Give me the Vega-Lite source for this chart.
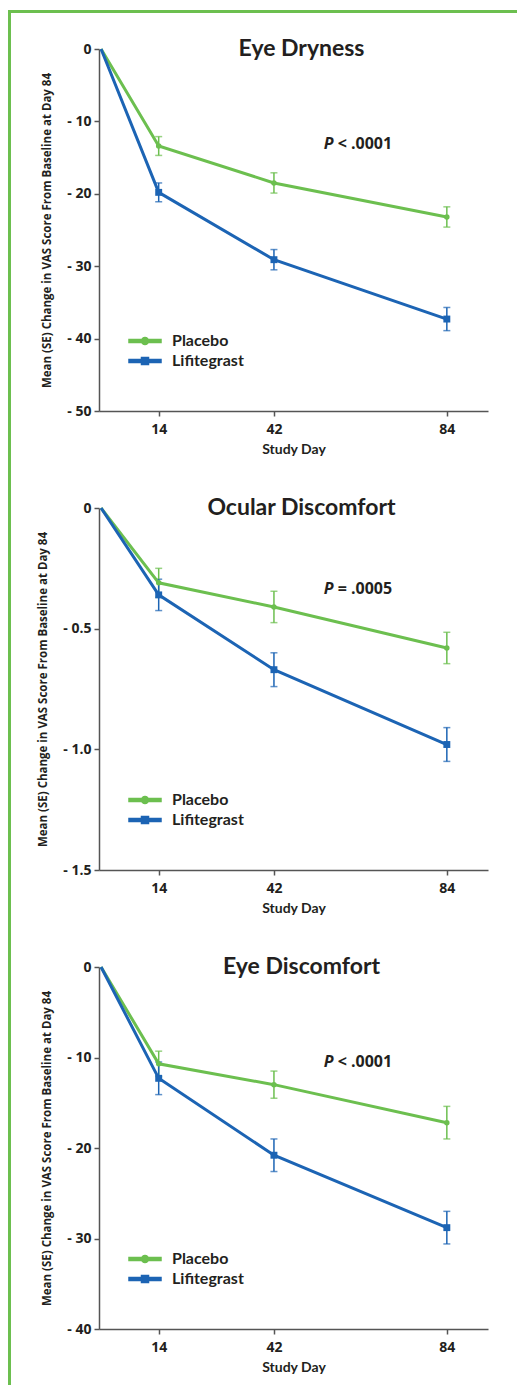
{
  "$schema": "https://vega.github.io/schema/vega-lite/v6.json",
  "padding": {"left": 8, "top": 10, "right": 0, "bottom": 0},
  "background": "white",
  "config": {
    "view": {"stroke": null},
    "axis": {
      "grid": false,
      "domainColor": "#555555",
      "domainWidth": 1.5,
      "tickColor": "#555555",
      "tickWidth": 1.5,
      "tickSize": 5,
      "labelFont": "Open Sans",
      "labelFontWeight": "bold",
      "labelFontSize": 14,
      "labelColor": "#231f20",
      "titleFont": "Open Sans",
      "titleFontWeight": "bold",
      "titleFontSize": 11.5,
      "titleColor": "#231f20"
    },
    "legend": {
      "orient": "none",
      "legendX": 38,
      "legendY": 284,
      "direction": "vertical",
      "padding": 0,
      "labelFont": "Lato",
      "labelFontSize": 16,
      "labelFontWeight": "bold",
      "labelColor": "#231f20",
      "labelOffset": 19,
      "symbolSize": 100,
      "rowPadding": 4
    },
    "title": {"font": "Lato", "fontSize": 23, "fontWeight": "bold", "color": "#231f20", "anchor": "middle", "offset": -19, "dx": 8}
  },
  "datasets": {
    "d": [
      {"panel": "A", "group": "Placebo", "day": 0, "mean": 0, "lo": 0, "hi": 0},
      {"panel": "A", "group": "Placebo", "day": 14, "mean": -13.4, "lo": -14.7, "hi": -12.1},
      {"panel": "A", "group": "Placebo", "day": 42, "mean": -18.5, "lo": -19.9, "hi": -17.1},
      {"panel": "A", "group": "Placebo", "day": 84, "mean": -23.2, "lo": -24.6, "hi": -21.8},
      {"panel": "A", "group": "Lifitegrast", "day": 0, "mean": 0, "lo": 0, "hi": 0},
      {"panel": "A", "group": "Lifitegrast", "day": 14, "mean": -19.8, "lo": -21.1, "hi": -18.5},
      {"panel": "A", "group": "Lifitegrast", "day": 42, "mean": -29.1, "lo": -30.5, "hi": -27.7},
      {"panel": "A", "group": "Lifitegrast", "day": 84, "mean": -37.3, "lo": -38.9, "hi": -35.7},
      {"panel": "B", "group": "Placebo", "day": 0, "mean": 0, "lo": 0, "hi": 0},
      {"panel": "B", "group": "Placebo", "day": 14, "mean": -0.31, "lo": -0.37, "hi": -0.25},
      {"panel": "B", "group": "Placebo", "day": 42, "mean": -0.41, "lo": -0.475, "hi": -0.345},
      {"panel": "B", "group": "Placebo", "day": 84, "mean": -0.58, "lo": -0.645, "hi": -0.515},
      {"panel": "B", "group": "Lifitegrast", "day": 0, "mean": 0, "lo": 0, "hi": 0},
      {"panel": "B", "group": "Lifitegrast", "day": 14, "mean": -0.36, "lo": -0.425, "hi": -0.295},
      {"panel": "B", "group": "Lifitegrast", "day": 42, "mean": -0.67, "lo": -0.74, "hi": -0.6},
      {"panel": "B", "group": "Lifitegrast", "day": 84, "mean": -0.98, "lo": -1.05, "hi": -0.91},
      {"panel": "C", "group": "Placebo", "day": 0, "mean": 0, "lo": 0, "hi": 0},
      {"panel": "C", "group": "Placebo", "day": 14, "mean": -10.7, "lo": -12.1, "hi": -9.3},
      {"panel": "C", "group": "Placebo", "day": 42, "mean": -13.0, "lo": -14.5, "hi": -11.5},
      {"panel": "C", "group": "Placebo", "day": 84, "mean": -17.2, "lo": -19.0, "hi": -15.4},
      {"panel": "C", "group": "Lifitegrast", "day": 0, "mean": 0, "lo": 0, "hi": 0},
      {"panel": "C", "group": "Lifitegrast", "day": 14, "mean": -12.3, "lo": -14.1, "hi": -10.5},
      {"panel": "C", "group": "Lifitegrast", "day": 42, "mean": -20.8, "lo": -22.6, "hi": -19.0},
      {"panel": "C", "group": "Lifitegrast", "day": 84, "mean": -28.8, "lo": -30.6, "hi": -27.0}
    ],
    "ann": [
      {"panel": "A", "pre": "P", "post": "< .0001", "day": 56.5, "value": -13.1},
      {"panel": "B", "pre": "P", "post": "= .0005", "day": 56.5, "value": -0.336},
      {"panel": "C", "pre": "P", "post": "< .0001", "day": 56.5, "value": -10.5}
    ],
    "one": [{"k": 1}]
  },
  "spacing": 0,
  "resolve": {"scale": {"color": "independent"}, "legend": {"color": "independent"}},
  "vconcat": [
    {
      "width": 509, "height": 3,
      "data": {"name": "one"},
      "mark": {"type": "rect", "color": "#6cbf4f"},
      "encoding": {"x": {"value": 0}, "x2": {"value": "width"}, "y": {"value": 0}, "y2": {"value": "height"}}
    },
    {
      "spacing": 26,
      "resolve": {"scale": {"color": "independent"}, "legend": {"color": "independent"}},
      "hconcat": [
        {
          "width": 3, "height": 1372,
          "data": {"name": "one"},
          "mark": {"type": "rect", "color": "#6cbf4f"},
          "encoding": {"x": {"value": 0}, "x2": {"value": "width"}, "y": {"value": 0}, "y2": {"value": "height"}}
        },
        {
          "spacing": 41,
          "resolve": {"scale": {"color": "independent"}, "legend": {"color": "independent"}},
          "vconcat": [
            {
              "spacing": 24,
              "resolve": {"scale": {"color": "independent"}, "legend": {"color": "independent"}},
              "vconcat": [
                {
                  "width": 10, "height": 1,
                  "data": {"name": "one"},
                  "mark": {"type": "rect", "opacity": 0},
                  "encoding": {"x": {"value": 0}, "x2": {"value": "width"}, "y": {"value": 0}, "y2": {"value": "height"}}
                },
                {
                  "width": 389, "height": 362,
                  "title": {"text": "Eye Dryness"},
                  "data": {"name": "d"},
                  "transform": [{"filter": "datum.panel === 'A'"}],
                  "encoding": {
                    "x": {"field": "day", "type": "quantitative", "scale": {"domain": [-0.5, 94]}, "axis": {"values": [14, 42, 84], "title": "Study Day", "titleFont": "Lato", "titleFontSize": 14, "labelPadding": 6, "titlePadding": 6}}
                  },
                  "layer": [
                    {
                      "transform": [{"filter": "datum.day > 0"}],
                      "mark": {"type": "errorbar", "ticks": {"size": 7, "thickness": 1.5}, "rule": {"strokeWidth": 1.5}},
                      "encoding": {
                        "y": {"field": "lo", "type": "quantitative", "scale": {"domain": [-50, 0], "nice": false}, "axis": {"values": [0, -10, -20, -30, -40, -50], "labelExpr": "datum.value == 0 ? '0' : '- ' + format(-datum.value, 'd')", "title": "Mean (SE) Change in VAS Score From Baseline at Day 84", "titlePadding": 14, "labelPadding": 3}},
                        "y2": {"field": "hi"},
                        "color": {"field": "group", "type": "nominal"}
                      }
                    },
                    {
                      "mark": {"type": "line", "strokeWidth": 3},
                      "encoding": {
                        "y": {"field": "mean", "type": "quantitative"},
                        "color": {"field": "group", "type": "nominal", "sort": ["Placebo", "Lifitegrast"], "scale": {"domain": ["Placebo", "Lifitegrast"], "range": ["#6cbf4f", "#1c64b4"]},
                          "legend": {"title": null, "encode": {"symbols": {"update": {
                            "shape": {"signal": "datum.value === 'Placebo' ? 'M-3.2,-0.3H3.2V0.3H-3.2Z M0.7,0A0.7,0.7 0 1,1 -0.7,0A0.7,0.7 0 1,1 0.7,0Z' : 'M-3.2,-0.3H3.2V0.3H-3.2Z M-0.7,-0.7H0.7V0.7H-0.7Z'"},
                            "fill": {"signal": "datum.value === 'Placebo' ? '#6cbf4f' : '#1c64b4'"},
                            "stroke": {"value": "transparent"},
                            "opacity": {"value": 1}}}}}}
                      }
                    },
                    {
                      "transform": [{"filter": "datum.day > 0"}],
                      "mark": {"type": "point", "filled": true, "opacity": 1},
                      "encoding": {
                        "y": {"field": "mean", "type": "quantitative"},
                        "color": {"field": "group", "type": "nominal"},
                        "shape": {"condition": {"test": "datum.group === 'Placebo'", "value": "circle"}, "value": "square"},
                        "size": {"condition": {"test": "datum.group === 'Placebo'", "value": 30}, "value": 48}
                      }
                    },
                    {
                      "data": {"name": "ann"},
                      "transform": [{"filter": "datum.panel === 'A'"}],
                      "mark": {"type": "text", "font": "Open Sans", "fontSize": 16, "fontWeight": "bold", "fontStyle": "italic", "align": "right", "baseline": "middle", "color": "#231f20"},
                      "encoding": {"x": {"field": "day", "type": "quantitative"}, "y": {"field": "value", "type": "quantitative"}, "text": {"field": "pre"}}
                    },
                    {
                      "data": {"name": "ann"},
                      "transform": [{"filter": "datum.panel === 'A'"}],
                      "mark": {"type": "text", "font": "Open Sans", "fontSize": 16, "fontWeight": "bold", "align": "left", "baseline": "middle", "dx": 4, "color": "#231f20"},
                      "encoding": {"x": {"field": "day", "type": "quantitative"}, "y": {"field": "value", "type": "quantitative"}, "text": {"field": "post"}}
                    }
                  ]
                }
              ]
            },
            {
              "width": 389, "height": 362,
              "title": {"text": "Ocular Discomfort"},
              "data": {"name": "d"},
              "transform": [{"filter": "datum.panel === 'B'"}],
              "encoding": {
                "x": {"field": "day", "type": "quantitative", "scale": {"domain": [-0.5, 94]}, "axis": {"values": [14, 42, 84], "title": "Study Day", "titleFont": "Lato", "titleFontSize": 14, "labelPadding": 6, "titlePadding": 6}}
              },
              "layer": [
                {
                  "transform": [{"filter": "datum.day > 0"}],
                  "mark": {"type": "errorbar", "ticks": {"size": 7, "thickness": 1.5}, "rule": {"strokeWidth": 1.5}},
                  "encoding": {
                    "y": {"field": "lo", "type": "quantitative", "scale": {"domain": [-1.5, 0], "nice": false}, "axis": {"values": [0, -0.5, -1, -1.5], "labelExpr": "datum.value == 0 ? '0' : '- ' + format(-datum.value, '.1f')", "title": "Mean (SE) Change in VAS Score From Baseline at Day 84", "titlePadding": 14, "labelPadding": 3}},
                    "y2": {"field": "hi"},
                    "color": {"field": "group", "type": "nominal"}
                  }
                },
                {
                  "mark": {"type": "line", "strokeWidth": 3},
                  "encoding": {
                    "y": {"field": "mean", "type": "quantitative"},
                    "color": {"field": "group", "type": "nominal", "sort": ["Placebo", "Lifitegrast"], "scale": {"domain": ["Placebo", "Lifitegrast"], "range": ["#6cbf4f", "#1c64b4"]},
                      "legend": {"title": null, "encode": {"symbols": {"update": {
                        "shape": {"signal": "datum.value === 'Placebo' ? 'M-3.2,-0.3H3.2V0.3H-3.2Z M0.7,0A0.7,0.7 0 1,1 -0.7,0A0.7,0.7 0 1,1 0.7,0Z' : 'M-3.2,-0.3H3.2V0.3H-3.2Z M-0.7,-0.7H0.7V0.7H-0.7Z'"},
                        "fill": {"signal": "datum.value === 'Placebo' ? '#6cbf4f' : '#1c64b4'"},
                        "stroke": {"value": "transparent"},
                        "opacity": {"value": 1}}}}}}
                  }
                },
                {
                  "transform": [{"filter": "datum.day > 0"}],
                  "mark": {"type": "point", "filled": true, "opacity": 1},
                  "encoding": {
                    "y": {"field": "mean", "type": "quantitative"},
                    "color": {"field": "group", "type": "nominal"},
                    "shape": {"condition": {"test": "datum.group === 'Placebo'", "value": "circle"}, "value": "square"},
                    "size": {"condition": {"test": "datum.group === 'Placebo'", "value": 30}, "value": 48}
                  }
                },
                {
                  "data": {"name": "ann"},
                  "transform": [{"filter": "datum.panel === 'B'"}],
                  "mark": {"type": "text", "font": "Open Sans", "fontSize": 16, "fontWeight": "bold", "fontStyle": "italic", "align": "right", "baseline": "middle", "color": "#231f20"},
                  "encoding": {"x": {"field": "day", "type": "quantitative"}, "y": {"field": "value", "type": "quantitative"}, "text": {"field": "pre"}}
                },
                {
                  "data": {"name": "ann"},
                  "transform": [{"filter": "datum.panel === 'B'"}],
                  "mark": {"type": "text", "font": "Open Sans", "fontSize": 16, "fontWeight": "bold", "align": "left", "baseline": "middle", "dx": 4, "color": "#231f20"},
                  "encoding": {"x": {"field": "day", "type": "quantitative"}, "y": {"field": "value", "type": "quantitative"}, "text": {"field": "post"}}
                }
              ]
            },
            {
              "width": 389, "height": 362,
              "title": {"text": "Eye Discomfort"},
              "data": {"name": "d"},
              "transform": [{"filter": "datum.panel === 'C'"}],
              "encoding": {
                "x": {"field": "day", "type": "quantitative", "scale": {"domain": [-0.5, 94]}, "axis": {"values": [14, 42, 84], "title": "Study Day", "titleFont": "Lato", "titleFontSize": 14, "labelPadding": 6, "titlePadding": 6}}
              },
              "layer": [
                {
                  "transform": [{"filter": "datum.day > 0"}],
                  "mark": {"type": "errorbar", "ticks": {"size": 7, "thickness": 1.5}, "rule": {"strokeWidth": 1.5}},
                  "encoding": {
                    "y": {"field": "lo", "type": "quantitative", "scale": {"domain": [-40, 0], "nice": false}, "axis": {"values": [0, -10, -20, -30, -40], "labelExpr": "datum.value == 0 ? '0' : '- ' + format(-datum.value, 'd')", "title": "Mean (SE) Change in VAS Score From Baseline at Day 84", "titlePadding": 14, "labelPadding": 3}},
                    "y2": {"field": "hi"},
                    "color": {"field": "group", "type": "nominal"}
                  }
                },
                {
                  "mark": {"type": "line", "strokeWidth": 3},
                  "encoding": {
                    "y": {"field": "mean", "type": "quantitative"},
                    "color": {"field": "group", "type": "nominal", "sort": ["Placebo", "Lifitegrast"], "scale": {"domain": ["Placebo", "Lifitegrast"], "range": ["#6cbf4f", "#1c64b4"]},
                      "legend": {"title": null, "encode": {"symbols": {"update": {
                        "shape": {"signal": "datum.value === 'Placebo' ? 'M-3.2,-0.3H3.2V0.3H-3.2Z M0.7,0A0.7,0.7 0 1,1 -0.7,0A0.7,0.7 0 1,1 0.7,0Z' : 'M-3.2,-0.3H3.2V0.3H-3.2Z M-0.7,-0.7H0.7V0.7H-0.7Z'"},
                        "fill": {"signal": "datum.value === 'Placebo' ? '#6cbf4f' : '#1c64b4'"},
                        "stroke": {"value": "transparent"},
                        "opacity": {"value": 1}}}}}}
                  }
                },
                {
                  "transform": [{"filter": "datum.day > 0"}],
                  "mark": {"type": "point", "filled": true, "opacity": 1},
                  "encoding": {
                    "y": {"field": "mean", "type": "quantitative"},
                    "color": {"field": "group", "type": "nominal"},
                    "shape": {"condition": {"test": "datum.group === 'Placebo'", "value": "circle"}, "value": "square"},
                    "size": {"condition": {"test": "datum.group === 'Placebo'", "value": 30}, "value": 48}
                  }
                },
                {
                  "data": {"name": "ann"},
                  "transform": [{"filter": "datum.panel === 'C'"}],
                  "mark": {"type": "text", "font": "Open Sans", "fontSize": 16, "fontWeight": "bold", "fontStyle": "italic", "align": "right", "baseline": "middle", "color": "#231f20"},
                  "encoding": {"x": {"field": "day", "type": "quantitative"}, "y": {"field": "value", "type": "quantitative"}, "text": {"field": "pre"}}
                },
                {
                  "data": {"name": "ann"},
                  "transform": [{"filter": "datum.panel === 'C'"}],
                  "mark": {"type": "text", "font": "Open Sans", "fontSize": 16, "fontWeight": "bold", "align": "left", "baseline": "middle", "dx": 4, "color": "#231f20"},
                  "encoding": {"x": {"field": "day", "type": "quantitative"}, "y": {"field": "value", "type": "quantitative"}, "text": {"field": "post"}}
                }
              ]
            }
          ]
        }
      ]
    }
  ]
}
